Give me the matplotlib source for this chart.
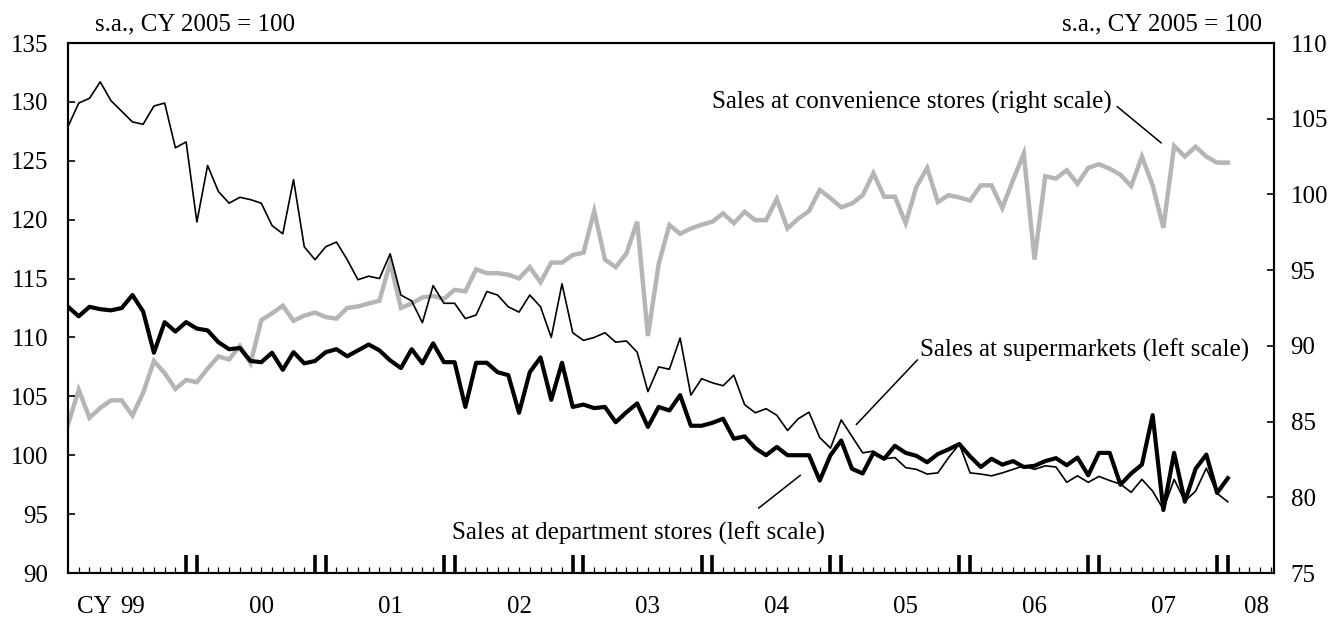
import matplotlib.pyplot as plt

# monthly, Jan 1999 .. Jan 2008 (index 0 = Jan 1999)
supermarkets = [
    127.9, 129.9, 130.3, 131.7, 130.1, 129.2, 128.3, 128.1, 129.65, 129.9, 126.1, 126.6,
    119.8, 124.6, 122.4, 121.4, 121.9, 121.7, 121.4, 119.5, 118.8, 123.4, 117.7, 116.6,
    117.7, 118.1, 116.6, 114.9, 115.2, 115.0, 117.1, 113.6, 113.1, 111.25, 114.4, 112.9,
    112.9, 111.6, 111.9, 113.9, 113.6, 112.6, 112.15, 113.6, 112.6, 110.0, 114.55, 110.4,
    109.75, 110.0, 110.4, 109.6, 109.7, 108.75, 105.4, 107.5, 107.3, 109.95, 105.1, 106.5,
    106.15, 105.9, 106.8, 104.3, 103.6, 103.95, 103.4, 102.1, 103.1, 103.65, 101.5, 100.6,
    103.0, 101.6, 100.2, 100.35, 99.7, 99.8, 98.95, 98.8, 98.4, 98.5, 99.8, 100.95,
    98.5, 98.4, 98.25, 98.5, 98.8, 99.1, 98.8, 99.1, 99.0, 97.7, 98.25, 97.7,
    98.2, 97.85, 97.55, 96.85, 97.95, 96.95, 95.4, 97.95, 96.1, 96.95, 98.9, 96.75,
    96.05,
]

department = [
    112.6, 111.8, 112.6, 112.4, 112.3, 112.5, 113.6, 112.2, 108.7, 111.3, 110.5, 111.3,
    110.75, 110.6, 109.6, 109.0, 109.1, 108.0, 107.9, 108.7, 107.25, 108.75, 107.8, 108.0,
    108.75, 109.0, 108.4, 108.9, 109.4, 108.9, 108.05, 107.4, 109.0, 107.8, 109.5, 107.9,
    107.9, 104.1, 107.85, 107.85, 107.05, 106.8, 103.6, 107.05, 108.3, 104.7, 107.85, 104.1,
    104.3, 104.0, 104.1, 102.8, 103.65, 104.4, 102.4, 104.1, 103.8, 105.1, 102.5, 102.5,
    102.75, 103.1, 101.4, 101.6, 100.6, 100.0, 100.7, 100.0, 100.0, 100.0, 97.85, 100.0,
    101.25, 98.85, 98.45, 100.2, 99.7, 100.8, 100.2, 99.95, 99.4, 100.1, 100.5, 100.95,
    99.9, 99.0, 99.7, 99.2, 99.5, 99.0, 99.1, 99.5, 99.75, 99.15, 99.8, 98.3,
    100.2, 100.2, 97.5, 98.45, 99.2, 103.4, 95.35, 100.2, 96.05, 98.85, 100.05, 96.8,
    98.05,
]

convenience = [
    84.8, 87.1, 85.25, 85.9, 86.4, 86.4, 85.4, 86.9, 89.0, 88.2, 87.15, 87.75,
    87.6, 88.5, 89.3, 89.1, 90.0, 88.85, 91.7, 92.15, 92.65, 91.65, 92.0, 92.2,
    91.9, 91.8, 92.5, 92.6, 92.8, 92.98, 95.5, 92.5, 92.8, 93.2, 93.3, 93.1,
    93.7, 93.6, 95.05, 94.8, 94.8, 94.7, 94.45, 95.2, 94.2, 95.5, 95.5, 96.0,
    96.15, 98.9, 95.7, 95.2, 96.1, 98.2, 90.65, 95.4, 97.98, 97.4, 97.75, 98.0,
    98.2, 98.75, 98.1, 98.85, 98.3, 98.3, 99.7, 97.75, 98.4, 98.9, 100.3, 99.75,
    99.15, 99.4, 99.95, 101.4, 99.85, 99.85, 98.1, 100.5, 101.75, 99.5, 99.95, 99.8,
    99.6, 100.6, 100.6, 99.1, 100.95, 102.7, 95.7, 101.2, 101.05, 101.6, 100.7, 101.75,
    102.0, 101.7, 101.3, 100.55, 102.5, 100.6, 97.8, 103.2, 102.5, 103.15, 102.5, 102.1,
    102.1,
]

year_labels = ["99", "00", "01", "02", "03", "04", "05", "06", "07", "08"]
year_pos = [6, 18, 30, 42, 54, 66, 78, 90, 102, 110.7]

FONT = "Liberation Serif"
FS = 18


def setup_axes(fig):
    ax = fig.add_axes([68 / 1340, 1 - 573 / 621, 1206 / 1340, 530 / 621])
    ax2 = ax.twinx()
    ax.set_zorder(ax2.get_zorder() + 1)
    ax.patch.set_visible(False)

    ax.set_xlim(0, 112.3)
    ax.set_ylim(90, 135)
    ax2.set_ylim(75, 110)
    ax.set_yticks(range(90, 136, 5))
    ax2.set_yticks(range(75, 111, 5))

    big = [k for k in range(1, 113) if k % 12 in (11, 0)]
    small = [k for k in range(1, 113) if k % 12 not in (11, 0)]
    ax.set_xticks(big)
    ax.set_xticks(small, minor=True)
    ax.tick_params(axis="x", which="major", direction="in", length=13, width=2.6, labelbottom=False)
    ax.tick_params(axis="x", which="minor", direction="in", length=4.5, width=0.9)
    ax.tick_params(axis="y", direction="in", length=5, width=1.2, pad=14, labelsize=FS)
    ax2.tick_params(axis="y", direction="in", length=5, width=1.2, pad=12, labelsize=FS)

    for a in (ax, ax2):
        for s in a.spines.values():
            s.set_linewidth(1.5)
        for lab in a.get_yticklabels():
            lab.set_fontfamily(FONT)
    return ax, ax2


def main():
    plt.rcParams["font.family"] = [FONT, "DejaVu Serif"]
    fig = plt.figure(figsize=(13.4, 6.21), dpi=100)
    ax, ax2 = setup_axes(fig)

    x = list(range(len(supermarkets)))
    ax2.plot(x, convenience, color="#b5b5b5", lw=3.2, solid_joinstyle="miter")
    ax.plot(x, supermarkets, color="black", lw=1.2)
    ax.plot(x, department, color="black", lw=3.0)

    # year labels under the axis
    tr = ax.get_xaxis_transform()
    for pos, lab in zip(year_pos, year_labels):
        ax.text(pos, -0.064, lab, transform=tr, ha="center", va="center", fontsize=FS)
    ax.text(4.1, -0.064, "CY", transform=tr, ha="right", va="center", fontsize=FS)

    fig.text(95 / 1340, 1 - 24 / 621, "s.a., CY 2005 = 100", ha="left", va="center", fontsize=FS)
    fig.text(1262 / 1340, 1 - 24 / 621, "s.a., CY 2005 = 100", ha="right", va="center", fontsize=FS)

    # series labels and leader lines
    line = dict(arrowstyle="-", color="black", lw=1.1, shrinkA=0, shrinkB=0)
    ax2.text(97.2, 106.1, "Sales at convenience stores (right scale)", ha="right", va="center", fontsize=FS)
    ax2.annotate("", xy=(101.8, 103.4), xytext=(97.7, 105.8), arrowprops=line)

    ax.text(79.3, 108.9, "Sales at supermarkets (left scale)", ha="left", va="center", fontsize=FS)
    ax.annotate("", xy=(73.4, 102.6), xytext=(79.1, 108.1), arrowprops=line)

    ax.text(53.1, 93.4, "Sales at department stores (left scale)", ha="center", va="center", fontsize=FS)
    ax.annotate("", xy=(68.2, 98.3), xytext=(64.3, 95.5), arrowprops=line)

    fig.savefig("out.png", dpi=100)


if __name__ == "__main__":
    main()
